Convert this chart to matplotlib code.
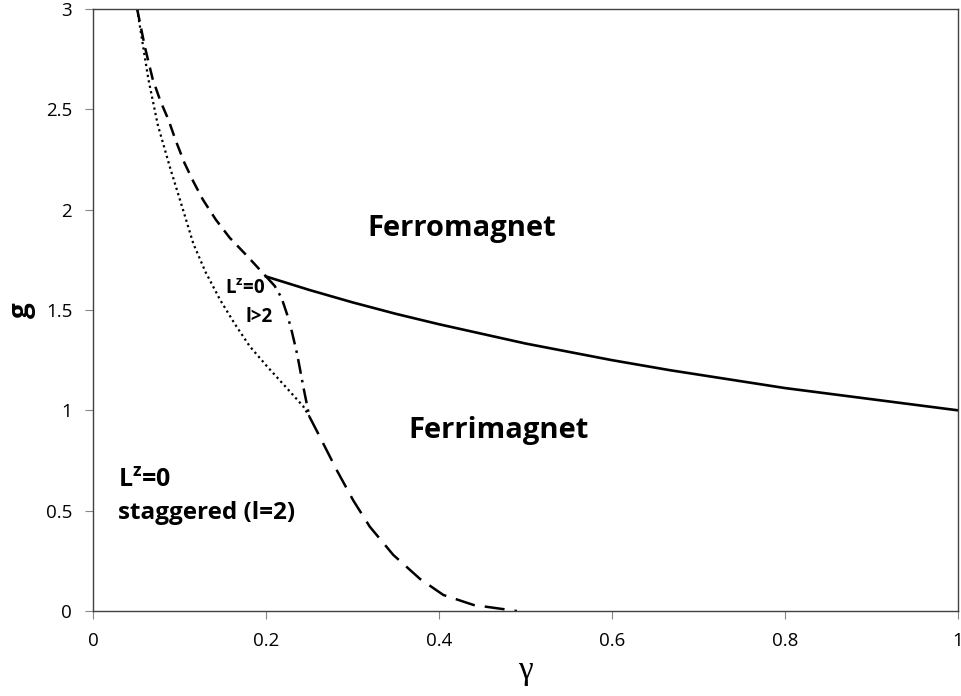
import numpy as np
import matplotlib
matplotlib.use("Agg")
import matplotlib.pyplot as plt

plt.rcParams['font.family'] = ['Open Sans', 'DejaVu Sans']
plt.rcParams['mathtext.fontset'] = 'custom'
plt.rcParams['mathtext.rm'] = 'Open Sans'
plt.rcParams['mathtext.bf'] = 'Open Sans:bold'

# ferromagnet / ferrimagnet boundary (solid)
solid_x = [0.2, 0.25, 0.3, 0.35, 0.4, 0.5, 0.6, 0.667, 0.8, 1.0]
solid_y = [1.667, 1.6, 1.538, 1.481, 1.429, 1.333, 1.25, 1.2, 1.111, 1.0]

# upper dashed boundary
dash_x = [0.051, 0.06, 0.069, 0.078, 0.087, 0.096, 0.106, 0.116, 0.127, 0.142, 0.158, 0.178, 0.2]
dash_y = [3.0, 2.81, 2.65, 2.54, 2.45, 2.34, 2.23, 2.14, 2.05, 1.95, 1.86, 1.77, 1.667]

# dotted boundary
dot_x = [0.051, 0.064, 0.075, 0.089, 0.104, 0.116, 0.13, 0.147, 0.164, 0.181, 0.201, 0.22, 0.243, 0.25]
dot_y = [3.0, 2.65, 2.42, 2.21, 2.0, 1.83, 1.69, 1.55, 1.43, 1.32, 1.22, 1.13, 1.02, 0.97]

# dash-dot boundary
dashdot_x = [0.2, 0.21, 0.218, 0.225, 0.23, 0.236, 0.243, 0.25]
dashdot_y = [1.667, 1.62, 1.56, 1.47, 1.39, 1.28, 1.12, 0.97]

# lower long-dashed boundary
long_x = [0.25, 0.262, 0.282, 0.301, 0.32, 0.347, 0.378, 0.405, 0.44, 0.49]
long_y = [0.97, 0.87, 0.70, 0.55, 0.42, 0.28, 0.16, 0.08, 0.03, 0.0]

fig = plt.figure(figsize=(9.61, 6.96), dpi=100)
ax = fig.add_axes([0.0968, 0.1221, 0.9001, 0.865])

ax.plot(solid_x, solid_y, color='black', lw=1.9)
ax.plot(dash_x, dash_y, color='black', lw=1.8, dashes=(5, 3))
ax.plot(dot_x, dot_y, color='black', lw=1.6, dashes=(1, 1.5))
ax.plot(dashdot_x, dashdot_y, color='black', lw=1.8, dashes=(6, 2.5, 1, 2.5))
ax.plot(long_x, long_y, color='black', lw=1.8, dashes=(8, 4))

ax.set_xlim(0, 1)
ax.set_ylim(0, 3)
ax.set_xticks([0, 0.2, 0.4, 0.6, 0.8, 1])
ax.set_xticklabels(['0', '0.2', '0.4', '0.6', '0.8', '1'])
ax.set_yticks([0, 0.5, 1, 1.5, 2, 2.5, 3])
ax.set_yticklabels(['0', '0.5', '1', '1.5', '2', '2.5', '3'])
ax.tick_params(direction='out', length=6, color='#868686', labelsize=13.5, pad=9)
for s in ax.spines.values():
    s.set_color('#404040')
    s.set_linewidth(1.0)

ax.set_xlabel('γ', family='Liberation Serif', fontsize=24, labelpad=4)
ax.set_ylabel('g', fontweight='bold', fontsize=20, labelpad=7)

ax.text(0.317, 1.904, 'Ferromagnet', fontsize=21, fontweight='bold', va='center')
ax.text(0.364, 0.90, 'Ferrimagnet', fontsize=21, fontweight='bold', va='center')
ax.text(0.152, 1.605, r'L$^\mathbf{z}$=0', fontsize=13.5, fontweight='bold', va='center')
ax.text(0.176, 1.465, 'l>2', fontsize=13.5, fontweight='bold', va='center')
ax.text(0.029, 0.653, r'L$^\mathbf{z}$=0', fontsize=18, fontweight='bold', va='center')
ax.text(0.029, 0.488, 'staggered (l=2)', fontsize=17.5, fontweight='bold', va='center')

plt.savefig('out.png', dpi=100)
